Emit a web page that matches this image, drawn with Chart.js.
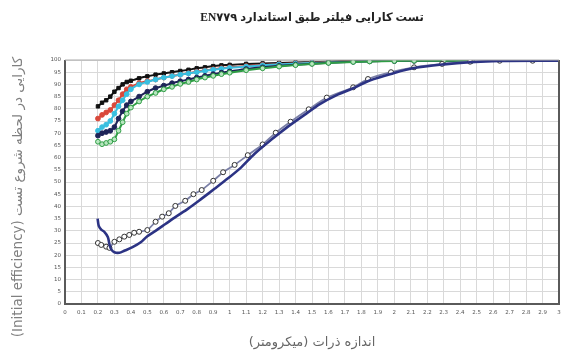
<!DOCTYPE html>
<html><head><meta charset="utf-8">
<script src="https://cdn.jsdelivr.net/npm/chart.js@4"></script>
<style>html,body{margin:0;padding:0;background:#fff}#wrap{width:582px;height:355px}</style>
</head><body><div id="wrap"><canvas id="c" width="582" height="355"></canvas></div>
<script>
const chartTitle = '\u202Bتست کارایی فیلتر طبق استاندارد EN۷۷۹\u202C';
const xTitle = '\u202Bاندازه ذرات (میکرومتر)\u202C';
const yTitle = '\u202Bکارایی در لحظه شروع تست (Initial efficiency)\u202C       ';

const xTickLabels = ['0','0.1','0.2','0.3','0.4','0.5','0.6','0.7','0.8','0.9','1','1.1','1.2','1.3','1.4','1.5','1.6','1.7','1.8','1.9','2','2.1','2.2','2.3','2.4','2.5','2.6','2.7','2.8','2.9','3'];
const yTickLabels = ['0','5','10','15','20','25','30','35','40','45','50','55','60','65','70','75','80','85','90','95','100'];

// particle sizes for the high-efficiency series
const hiSizes = [0.2,0.225,0.25,0.275,0.3,0.325,0.35,0.375,0.4,0.45,0.5,0.55,0.6,0.65,0.7,0.75,0.8,0.85,0.9,0.95,1.0,1.1,1.2,1.3,1.4,1.5,1.6,1.75,1.85,2.0,2.12,2.3,2.47];
const blackEff = [81,82.5,83.5,85,87,88.5,90,91,91.5,92.5,93.3,94,94.5,95,95.5,96,96.6,97,97.5,97.8,98,98.4,98.6,98.8,99,99.1,99.3,99.6,99.7,99.8,99.8,99.8,99.8];
const redEff   = [76,77.5,78.5,79.5,81.5,83.5,86,88,89,90.5,91.3,92,92.8,93.5,94,94.6,95.2,95.7,96.2,96.6,97,97.5,98,98.3,98.6,98.9,99.1,99.4,99.5,99.6,99.7,99.7,99.7];
const cyanEff  = [71,72.5,73.5,75,78,81,83.5,86,88,90,91,92,92.8,93.4,94,94.5,95,95.5,96,96.4,96.8,97.3,97.8,98.2,98.5,98.8,99,99.3,99.5,99.6,99.7,99.7,99.7];
const navyEff  = [69,70,70.5,71,72.5,76,79,81.5,83,85,87,88.5,89.5,90.5,91.3,92,92.8,93.5,94.2,94.8,95.3,96.3,97,97.6,98.1,98.5,98.9,99.3,99.5,99.6,99.7,99.7,99.7];
const greenEff = [66.5,65.5,66,66.5,67.5,71,74.5,78,80.5,83,85,86.5,88,89,90.2,91,92,92.8,93.5,94.2,94.8,95.8,96.6,97.3,97.9,98.4,98.8,99.2,99.4,99.6,99.7,99.7,99.7];

// open-circle series
const openSizes = [0.2,0.22,0.25,0.27,0.3,0.33,0.36,0.39,0.42,0.45,0.5,0.55,0.59,0.63,0.67,0.73,0.78,0.83,0.9,0.96,1.03,1.11,1.2,1.28,1.37,1.48,1.59,1.75,1.84,1.98,2.12,2.29,2.46,2.64,2.84,3.0];
const openEff  = [25,24.2,23.5,23,25.5,26.5,27.6,28.3,29.2,29.6,30.3,33.7,35.8,37.2,40.2,42.3,45,46.7,50.5,54,57,61,65.4,70.2,74.7,79.8,84.6,88.8,92.2,95,97,98.4,99.3,99.7,99.7,99.7];

// solid dark line
const solidSizes = [0.198,0.205,0.22,0.24,0.26,0.27,0.28,0.3,0.33,0.36,0.41,0.46,0.5,0.55,0.61,0.67,0.75,0.83,0.91,0.99,1.07,1.15,1.25,1.35,1.45,1.55,1.65,1.75,1.85,2.0,2.12,2.3,2.46,2.64,3.0];
const solidEff   = [35,32,30.5,29.5,27.5,24.5,22.5,21.2,21,21.8,23.3,25.3,27.8,30,32.8,35.6,39.2,43.2,47.3,51.5,56,61.5,67.2,72.5,77.3,82,85.6,88.4,91.6,94.7,96.7,98.2,99.1,99.6,99.7];

const zip = (xs, ys) => xs.map((x, i) => ({x: x, y: ys[i]}));

const borderPlugin = {
  id: 'frame',
  afterDraw(chart) {
    const {ctx, chartArea: a} = chart;
    ctx.save();
    ctx.strokeStyle = '#5a5a5a';
    ctx.lineWidth = 2;
    ctx.beginPath();
    ctx.moveTo(a.left, a.top); ctx.lineTo(a.left, a.bottom); ctx.lineTo(a.right, a.bottom); ctx.lineTo(a.right, a.top);
    ctx.stroke();
    ctx.strokeStyle = '#aaa'; ctx.lineWidth = 1;
    ctx.beginPath(); ctx.moveTo(a.left, a.top); ctx.lineTo(a.right, a.top); ctx.stroke();
    ctx.restore();
  }
};

function hi(data, color, pointStyle, fill) {
  return {data: data, borderColor: color, backgroundColor: fill || color, pointBackgroundColor: fill || color,
    pointBorderColor: color, pointStyle: pointStyle, pointRadius: 2.4, pointBorderWidth: 1, borderWidth: 2, tension: 0.2};
}

new Chart(document.getElementById('c'), {
  type: 'line',
  data: {
    datasets: [
      {data: zip(solidSizes, solidEff), borderColor: '#2c3384', borderWidth: 2.6, pointRadius: 0, tension: 0.3},
      {data: zip(openSizes, openEff), borderColor: '#7a7fa6', borderWidth: 1.8, pointBackgroundColor: '#fff', pointBorderColor: '#333',
        pointBorderWidth: 1, pointRadius: (c) => c.dataIndex === openSizes.length - 1 ? 0 : 2.5, tension: 0.2},
      hi(zip(hiSizes, greenEff), '#2f9e45', 'circle', '#b8e6c0'),
      hi(zip(hiSizes, navyEff), '#1e2458', 'circle'),
      hi(zip(hiSizes, cyanEff), '#38bfe0', 'circle'),
      hi(zip(hiSizes, redEff), '#d9483a', 'circle'),
      hi(zip(hiSizes, blackEff), '#111111', 'rect')
    ]
  },
  options: {
    responsive: false,
    animation: false,
    layout: {padding: {left: 0, right: 23, top: 0, bottom: 0}},
    plugins: {
      legend: {display: false},
      tooltip: {enabled: false},
      title: {display: true, fullSize: false, text: chartTitle, color: '#222',
        font: {family: "'Liberation Serif','DejaVu Sans'", size: 11.5, weight: 'bold'}, padding: {top: 11, bottom: 35.2}}
    },
    scales: {
      x: {
        type: 'linear', min: 0, max: 3,
        ticks: {stepSize: 0.1, autoSkip: false, maxRotation: 0, color: '#555', font: {size: 5.5, family: 'DejaVu Sans'}, padding: 5,
          callback: (v) => { const i = Math.round(v * 10); return xTickLabels[i] !== undefined ? xTickLabels[i] : ''; }},
        grid: {color: '#d9d9d9', lineWidth: 1, drawTicks: false},
        border: {display: false},
        title: {display: true, text: xTitle, color: '#666', font: {family: 'DejaVu Sans', size: 13}, padding: {top: 0, bottom: 5}},
        afterFit: (s) => { s.height = 51; }
      },
      y: {
        min: 0, max: 100,
        ticks: {stepSize: 5, autoSkip: false, color: '#555', font: {size: 5.5, family: 'DejaVu Sans'}, padding: 4,
          callback: (v) => yTickLabels[Math.round(v / 5)]},
        grid: {color: '#d9d9d9', lineWidth: 1, drawTicks: false},
        border: {display: false},
        title: {display: true, text: yTitle, color: '#808080', font: {family: 'DejaVu Sans', size: 13.5}, padding: {top: 10, bottom: 0}},
        afterFit: (s) => { s.width = 65; }
      }
    }
  },
  plugins: [borderPlugin]
});
</script>
</body></html>
